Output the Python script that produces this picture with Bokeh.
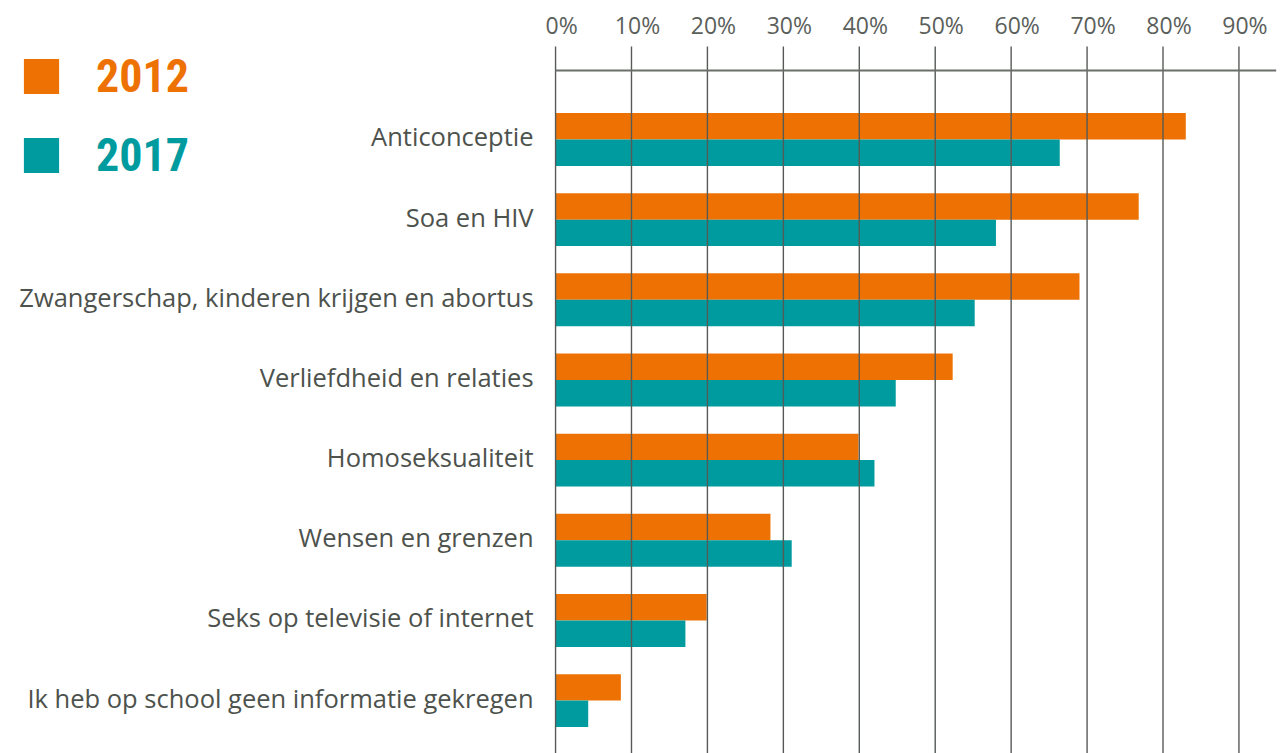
from bokeh.plotting import figure
from bokeh.models import Range1d, Legend, LegendItem, ColumnDataSource
from bokeh.core.properties import value
from bokeh.transform import dodge
from bokeh.embed import file_html
from bokeh.resources import INLINE

categories = [
    "Anticonceptie",
    "Soa en HIV",
    "Zwangerschap, kinderen krijgen en abortus",
    "Verliefdheid en relaties",
    "Homoseksualiteit",
    "Wensen en grenzen",
    "Seks op televisie of internet",
    "Ik heb op school geen informatie gekregen",
]
v2012 = [83.0, 76.8, 69.0, 52.3, 39.9, 28.3, 19.9, 8.6]
v2017 = [66.4, 58.0, 55.2, 44.8, 42.0, 31.1, 17.1, 4.3]
x_ticks = [0, 10, 20, 30, 40, 50, 60, 70, 80, 90]
tick_labels = [f"{t}%" for t in x_ticks]

ORANGE = "#EE7203"
TEAL = "#009B9E"
GRID = "#575b57"
TEXT = "#4d524d"

# scale / layout settings
X_START, X_END = -73.1, 96.0        # value range of the full canvas width
Y_TOP, Y_BOTTOM = -1.734, 7.66      # category index range of the full canvas height
AXIS_Y = -0.861                      # row of the top axis line
GRID_TOP = -1.16                     # where the vertical grid lines start
AXIS_END = 94.9                      # end of the top axis line

idx = list(range(len(categories)))
src = ColumnDataSource(data=dict(y=idx, v2012=v2012, v2017=v2017, cat=categories))

p = figure(width=1284, height=753, output_backend="svg", toolbar_location=None,
           x_range=Range1d(X_START, X_END), y_range=Range1d(Y_BOTTOM, Y_TOP),
           min_border=0, x_axis_type=None, y_axis_type=None)
p.outline_line_color = None
p.background_fill_color = "white"
p.border_fill_color = "white"
p.xgrid.visible = False
p.ygrid.visible = False

r1 = p.hbar(y=dodge("y", -0.165, range=p.y_range), right="v2012", left=0, height=0.33,
            source=src, fill_color=ORANGE, line_color=None)
r2 = p.hbar(y=dodge("y", 0.165, range=p.y_range), right="v2017", left=0, height=0.33,
            source=src, fill_color=TEAL, line_color=None)

# vertical grid lines (drawn over the bars, extending above the axis line as ticks)
p.segment(x0=x_ticks, y0=GRID_TOP, x1=x_ticks, y1=Y_BOTTOM,
          line_color=GRID, line_width=1.4)
# top axis line
p.segment(x0=[0], y0=AXIS_Y, x1=[AXIS_END], y1=AXIS_Y,
          line_color="#6b6e6b", line_width=2)

# tick labels
p.text(x=x_ticks, y=AXIS_Y, text=tick_labels, x_offset=6, y_offset=-45,
       text_align="center", text_baseline="middle",
       text_font=value("Open Sans"), text_font_size="23px", text_color="#5b5f5b")

# category labels
p.text(x=0, y=idx, text=categories, x_offset=-22, y_offset=-3,
       text_align="right", text_baseline="middle",
       text_font=value("Open Sans"), text_font_size="25.5px", text_color=TEXT)

def make_legend(label, rend, color, loc):
    return Legend(items=[LegendItem(label=label, renderers=[rend])], location=loc,
                  padding=0, margin=0, border_line_color=None, background_fill_alpha=0,
                  glyph_width=44, glyph_height=44, label_standoff=33,
                  label_text_font="Liberation Sans Narrow, Roboto Condensed, DejaVu Sans Condensed",
                  label_text_font_style="bold", label_text_font_size="46px",
                  label_text_color=color, label_text_baseline="middle")

p.add_layout(make_legend("2012", r1, ORANGE, (19, 650)))
p.add_layout(make_legend("2017", r2, TEAL, (19, 571)))

open("out.html", "w").write(file_html(p, INLINE))
